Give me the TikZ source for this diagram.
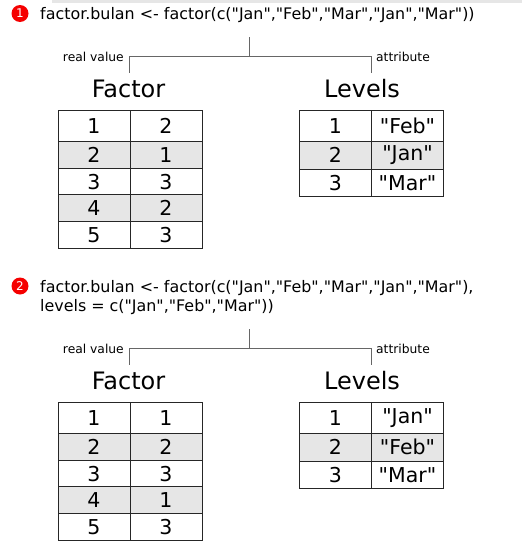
\documentclass[tikz,border=0pt]{standalone}
\usepackage{fontspec}
\setmainfont{DejaVu Sans}[Ligatures=TeXOff]
\usetikzlibrary{positioning}

\definecolor{rowgray}{HTML}{E6E6E6}
\definecolor{treegray}{HTML}{666666}
\definecolor{badgered}{HTML}{F50000}

\tikzset{
  cell/.style={draw=black!85, line width=1pt, minimum width=72pt, inner sep=0pt,
    anchor=north west, font=\fontsize{20.5}{20.5}\selectfont},
  badge/.style={circle, fill=badgered, text=white, minimum size=17pt, inner sep=0pt,
    font=\fontsize{12}{12}\selectfont},
  code/.style={anchor=base west, align=left, inner sep=0pt,
    font=\fontsize{15.9}{19}\selectfont},
  title/.style={anchor=base, inner sep=0pt, font=\fontsize{24}{24}\selectfont},
  tag/.style={inner sep=0pt, font=\fontsize{12.3}{12.3}\selectfont},
  branch/.style={draw=treegray, line width=0.8pt},
}

\begin{document}
\begin{tikzpicture}[x=1pt, y=-1pt]
    \useasboundingbox (0,0) rectangle (522,557);
    \fill[rowgray] (52,0) rectangle (522,3.3);

    % the two calls
    \node[badge] (badge-1) at (20,13.5) {1};
    \node[code] (call-1) at (40,19.5)
        {factor.bulan <- factor(c("Jan","Feb","Mar","Jan","Mar"))};
    \node[badge] (badge-2) at (20,286) {2};
    \node[code] (call-2) at (40,311)
        {factor.bulan <- factor(c("Jan","Feb","Mar","Jan","Mar"),\\
         levels = c("Jan","Feb","Mar"))};

    \foreach \p/\shift/\facvals/\levvals in
        {1/0/{2,1,3,2,3}/{Feb,Jan,Mar}, 2/292/{1,2,3,1,3}/{Jan,Feb,Mar}} {
      \begin{scope}[yshift=-\shift pt]
        % split into value and attribute
        \coordinate (root-\p) at (249.5,37);
        \coordinate (split-\p) at (249.5,56.5);
        \coordinate (real-\p) at (129.5,72.5);
        \coordinate (attr-\p) at (371,72.5);
        \draw[branch] (root-\p) -- (split-\p);
        \draw[branch] (real-\p) |- (split-\p) -| (attr-\p);
        \node[tag, anchor=base east] (realtag-\p) at (124,61.5) {real value};
        \node[tag, anchor=base west] (attrtag-\p) at (376,61.5) {attribute};

        \node[title] (factor-\p) at (128.5,97) {Factor};
        \node[title] (levels-\p) at (362,97) {Levels};

        % tables
        \foreach \v [count=\i] in \facvals {
          \pgfmathsetmacro\rowtop{\i==1 ? 110 : 141+(\i-2)*26.7}
          \pgfmathsetmacro\rowh{\i==1 ? 31 : 26.7}
          \ifodd\i \def\shade{white}\else \def\shade{rowgray}\fi
          \node[cell, fill=\shade, minimum height=\rowh pt] (fac-\p-\i-a) at (57.5,\rowtop) {\i};
          \node[cell, fill=\shade, minimum height=\rowh pt] (fac-\p-\i-b) at (129.5,\rowtop) {\v};
        }
        \foreach \v [count=\i] in \levvals {
          \pgfmathsetmacro\rowtop{\i==1 ? 110 : 141+(\i-2)*27.5}
          \pgfmathsetmacro\rowh{\i==1 ? 31 : 27.5}
          \ifodd\i \def\shade{white}\else \def\shade{rowgray}\fi
          \node[cell, fill=\shade, minimum height=\rowh pt] (lev-\p-\i-a) at (299,\rowtop) {\i};
          \node[cell, fill=\shade, minimum height=\rowh pt] (lev-\p-\i-b) at (371,\rowtop) {"\v"};
        }
      \end{scope}
    }
\end{tikzpicture}
\end{document}
